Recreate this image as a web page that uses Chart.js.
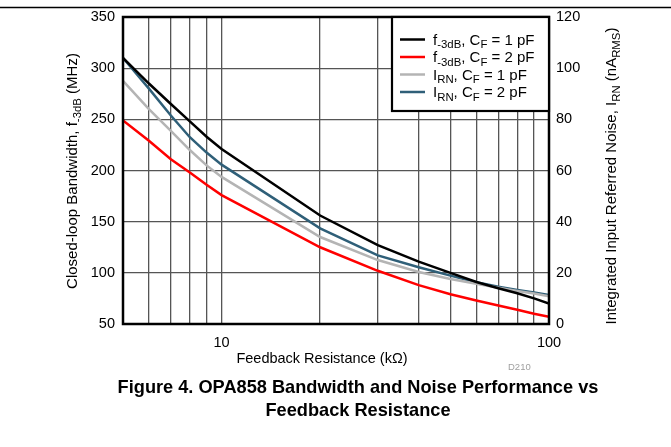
<!DOCTYPE html>
<html>
<head>
<meta charset="utf-8">
<script src="https://cdn.jsdelivr.net/npm/chart.js@4"></script>
<style>
  html, body { margin: 0; padding: 0; background: #fff; }
  #wrap { width: 671px; height: 447px; }
</style>
</head>
<body>
<div id="wrap"><canvas id="chart" width="671" height="447"></canvas></div>
<script>
// 反饋電阻 (kΩ)
const resistance = [5, 6, 7, 8, 9, 10, 20, 30, 40, 50, 60, 70, 80, 90, 100];
// 頻寬 (MHz)
const bw1pF = [310, 285, 265, 248, 233, 221, 156, 127, 111, 100, 91, 85, 80, 75, 70];
const bw2pF = [249, 229, 211, 198, 186, 176, 125, 102, 88, 79, 73, 68, 64, 60, 57];
// 雜訊 (nA RMS)
const irn1pF = [95, 84, 75.5, 68, 62, 57.5, 34, 25, 20.3, 17.6, 15.7, 14.2, 12.9, 11.9, 10.8];
const irn2pF = [104, 92, 81.5, 73, 67, 62.3, 37.4, 26.8, 22.2, 18.9, 16.3, 14.6, 13.3, 12.3, 11.3];

const xTickLabels = [10, 100];
const xGridValues = [5, 6, 7, 8, 9, 10, 20, 30, 40, 50, 60, 70, 80, 90, 100];

const FONT = '"Liberation Sans", Arial, sans-serif';

function toPoints(values) {
    return resistance.map((r, i) => ({ x: r, y: values[i] }));
}

// 畫帶下標的文字
function drawRich(ctx, parts, x, y, size, align) {
    const subSize = size * 0.76;
    let total = 0;
    parts.forEach(p => {
        ctx.font = (p[1] ? subSize : size) + 'px ' + FONT;
        total += ctx.measureText(p[0]).width;
    });
    let cx = align === 'center' ? x - total / 2 : x;
    ctx.textAlign = 'left';
    ctx.textBaseline = 'alphabetic';
    parts.forEach(p => {
        ctx.font = (p[1] ? subSize : size) + 'px ' + FONT;
        ctx.fillText(p[0], cx, p[1] ? y + size * 0.25 : y);
        cx += ctx.measureText(p[0]).width;
    });
}

const legendItems = [
    { color: '#000000', parts: [['f', 0], ['-3dB', 1], [', C', 0], ['F', 1], [' = 1 pF', 0]] },
    { color: '#ff0000', parts: [['f', 0], ['-3dB', 1], [', C', 0], ['F', 1], [' = 2 pF', 0]] },
    { color: '#b4b4b4', parts: [['I', 0], ['RN', 1], [', C', 0], ['F', 1], [' = 1 pF', 0]] },
    { color: '#2f5f78', parts: [['I', 0], ['RN', 1], [', C', 0], ['F', 1], [' = 2 pF', 0]] }
];

const decorPlugin = {
    id: 'decor',
    afterDraw(chart) {
        const ctx = chart.ctx;
        const a = chart.chartArea;
        ctx.save();
        ctx.fillStyle = '#000';
        ctx.strokeStyle = '#000';

        // 頂部分隔線
        ctx.lineWidth = 1.5;
        ctx.beginPath();
        ctx.moveTo(0, 7.5);
        ctx.lineTo(671, 7.5);
        ctx.stroke();

        // 繪圖區邊框
        ctx.lineWidth = 2.5;
        ctx.strokeRect(a.left, a.top, a.right - a.left, a.bottom - a.top);

        // 圖例
        const lx = 392;
        ctx.fillStyle = '#fff';
        ctx.fillRect(lx, a.top, a.right - lx, 111 - a.top);
        ctx.lineWidth = 2.2;
        ctx.strokeRect(lx, a.top, a.right - lx, 111 - a.top);
        legendItems.forEach((item, i) => {
            const ly = 39.5 + i * 17.5;
            ctx.strokeStyle = item.color;
            ctx.lineWidth = 2.5;
            ctx.beginPath();
            ctx.moveTo(400, ly);
            ctx.lineTo(425, ly);
            ctx.stroke();
            ctx.fillStyle = '#000';
            drawRich(ctx, item.parts, 433, ly + 5, 15, 'left');
        });

        // 座標軸標題
        ctx.fillStyle = '#000';
        drawRich(ctx, [['Feedback Resistance (k\u03A9)', 0]], 322, 363, 14.5, 'center');

        ctx.save();
        ctx.translate(77, 171);
        ctx.rotate(-Math.PI / 2);
        drawRich(ctx, [['Closed-loop Bandwidth, f', 0], ['-3dB', 1], [' (MHz)', 0]], 0, 0, 15, 'center');
        ctx.restore();

        ctx.save();
        ctx.translate(616, 176);
        ctx.rotate(-Math.PI / 2);
        drawRich(ctx, [['Integrated Input Referred Noise, I', 0], ['RN', 1], [' (nA', 0], ['RMS', 1], [')', 0]], 0, 0, 15, 'center');
        ctx.restore();

        // 圖號
        ctx.fillStyle = '#a0a0a0';
        drawRich(ctx, [['D210', 0]], 508, 370, 9.5, 'left');

        // 圖說
        ctx.fillStyle = '#000';
        ctx.font = 'bold 18.2px ' + FONT;
        ctx.textAlign = 'center';
        ctx.textBaseline = 'alphabetic';
        ctx.fillText('Figure 4. OPA858 Bandwidth and Noise Performance vs', 358, 393);
        ctx.fillText('Feedback Resistance', 358, 416);
        ctx.restore();
    }
};

const ctx = document.getElementById('chart').getContext('2d');

const chart = new Chart(ctx, {
    type: 'line',
    data: {
        datasets: [
            { label: 'f-3dB, CF = 1 pF', data: toPoints(bw1pF), yAxisID: 'y', borderColor: '#000000' },
            { label: 'f-3dB, CF = 2 pF', data: toPoints(bw2pF), yAxisID: 'y', borderColor: '#ff0000' },
            { label: 'IRN, CF = 1 pF', data: toPoints(irn1pF), yAxisID: 'y1', borderColor: '#b4b4b4' },
            { label: 'IRN, CF = 2 pF', data: toPoints(irn2pF), yAxisID: 'y1', borderColor: '#2f5f78' }
        ]
    },
    options: {
        responsive: false,
        animation: false,
        layout: { padding: { top: 17, left: 0, right: 0, bottom: 0 } },
        elements: {
            point: { radius: 0 },
            line: { borderWidth: 2.5, tension: 0 }
        },
        plugins: {
            legend: { display: false },
            tooltip: { enabled: false }
        },
        scales: {
            x: {
                type: 'logarithmic',
                min: 5,
                max: 100,
                afterBuildTicks(scale) {
                    scale.ticks = xGridValues.map(v => ({ value: v }));
                },
                afterFit(scale) { scale.height = 447 - 324; },
                ticks: {
                    autoSkip: false,
                    maxRotation: 0,
                    padding: 10,
                    color: '#000',
                    font: { family: FONT, size: 14.5 },
                    callback: v => xTickLabels.includes(v) ? String(v) : ''
                },
                grid: { color: '#555', lineWidth: 1.3, drawTicks: false },
                border: { display: false }
            },
            y: {
                position: 'left',
                min: 50,
                max: 350,
                afterFit(scale) { scale.width = 123; },
                ticks: {
                    stepSize: 50,
                    padding: 8,
                    color: '#000',
                    font: { family: FONT, size: 14.5 }
                },
                grid: { color: '#555', lineWidth: 1.3, drawTicks: false },
                border: { display: false }
            },
            y1: {
                position: 'right',
                min: 0,
                max: 120,
                afterFit(scale) { scale.width = 671 - 549; },
                ticks: {
                    stepSize: 20,
                    padding: 7,
                    color: '#000',
                    font: { family: FONT, size: 14.5 }
                },
                grid: { display: false, drawTicks: false },
                border: { display: false }
            }
        }
    },
    plugins: [decorPlugin]
});
</script>
</body>
</html>
